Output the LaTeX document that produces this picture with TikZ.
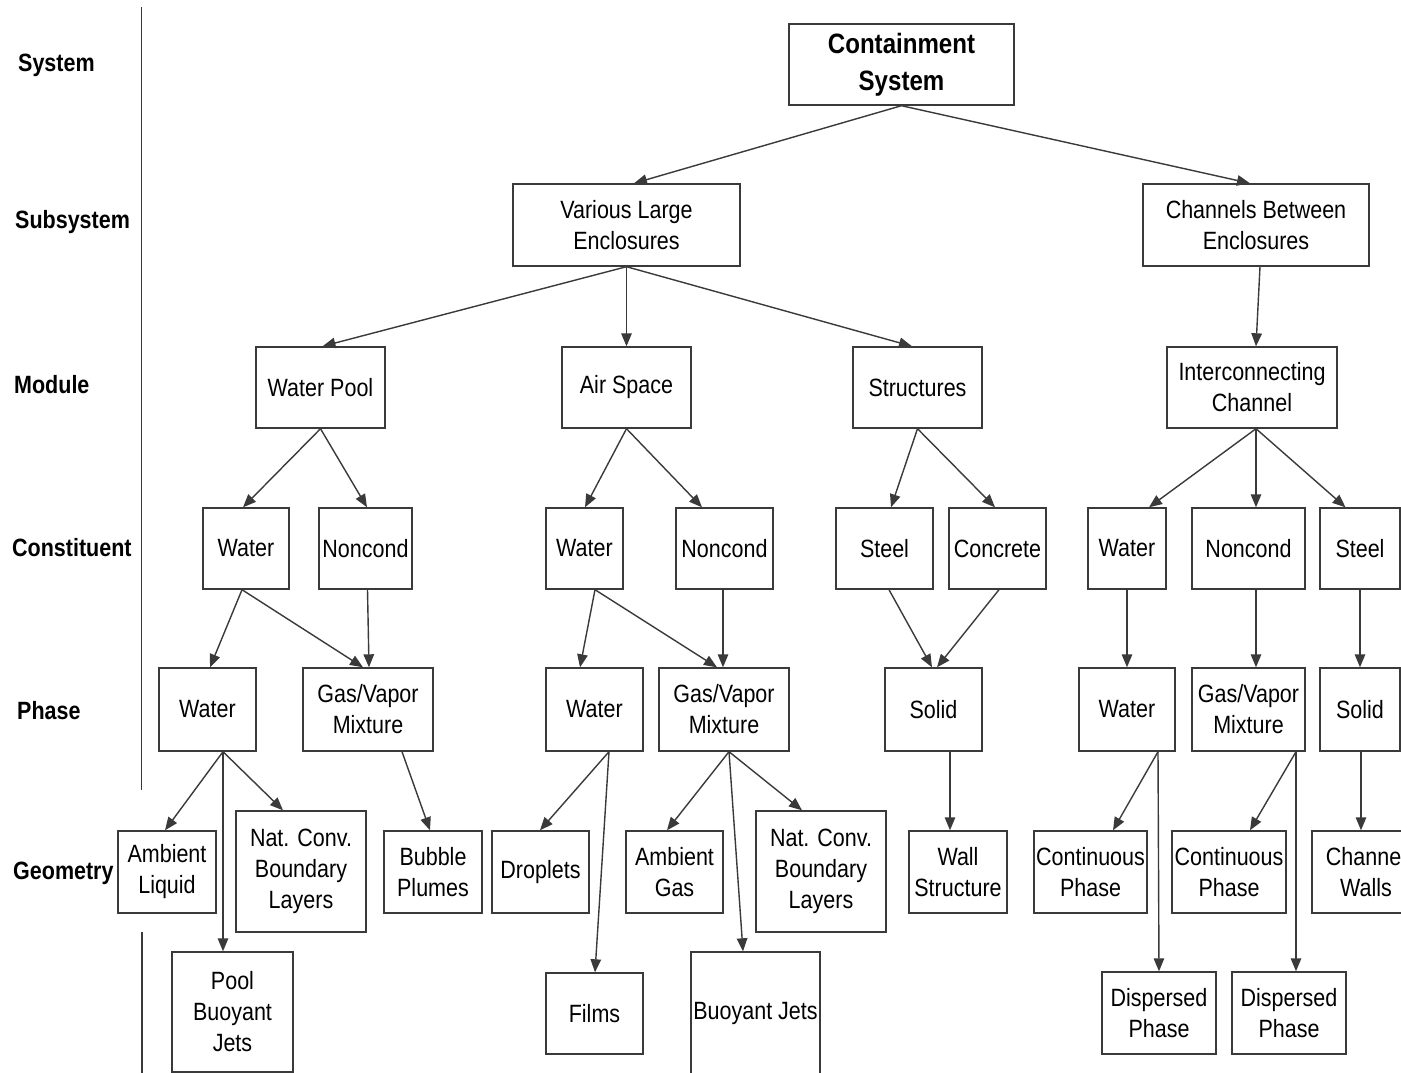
\documentclass[tikz,border=0pt]{standalone}
\usepackage{fontspec}
\setmainfont{Liberation Sans}[FakeStretch=0.86]
\usetikzlibrary{arrows.meta}
\definecolor{ln}{HTML}{3A3A3A}
\tikzset{
  box/.style={draw=ln, line width=1.4pt, inner sep=0pt, align=center, text=black,
    font=\fontsize{25}{31}\selectfont},
  lab/.style={anchor=west, inner sep=0pt, font=\fontsize{25}{30}\selectfont\bfseries},
  con/.style={draw=ln, line width=1.4pt, -{Triangle[length=13pt,width=10.5pt]}},
}
\newcommand{\bx}[6]{\node[box, minimum width=#4pt, minimum height=#5pt] (#1) at (#2,#3) {#6};}
\begin{document}
\begin{tikzpicture}[x=1pt,y=-1pt]
\useasboundingbox (0,0) rectangle (1401,1073);
\clip (0,0) rectangle (1401,1073);
\fill[white] (0,0) rectangle (1401,1073);
% level labels
\node[lab] (lsys) at (18,65) {System};
\node[lab] (lsub) at (15,222) {Subsystem};
\node[lab] (lmod) at (14,385) {Module};
\node[lab] (lcon) at (12,548) {Constituent};
\node[lab] (lpha) at (17,711) {Phase};
\node[lab] (lgeo) at (13,873) {Geometry};
\draw[ln, line width=1.4pt] (141.5,7) -- (141.5,790);
\draw[ln, line width=1.4pt] (142,932) -- (142,1073);
% boxes
\node[box, minimum width=225pt, minimum height=81pt, font=\fontsize{28}{37}\selectfont\bfseries] (cs) at (901.5,64.5) {Containment\\System};
\bx{vle}{626.5}{225}{227}{82}{Various Large\\Enclosures}
\bx{cbe}{1256}{225}{226}{82}{Channels Between\\Enclosures}
\bx{wp}{320.5}{387.5}{129}{81}{Water Pool}
\bx{as}{626.5}{387.5}{129}{81}{Air Space}
\bx{st}{917.5}{387.5}{129}{81}{Structures}
\bx{ic}{1252}{387.5}{170}{81}{Interconnecting\\Channel}
% constituents
\bx{c1}{246}{548.5}{86}{81}{Water}
\bx{c2}{365.5}{548.5}{93}{81}{Noncond}
\bx{c3}{584.5}{548.5}{77}{81}{Water}
\bx{c4}{724.5}{548.5}{97}{81}{Noncond}
\bx{c5}{884.5}{548.5}{97}{81}{Steel}
\bx{c6}{997.5}{548.5}{97}{81}{Concrete}
\bx{c7}{1127}{548.5}{78}{81}{Water}
\bx{c8}{1248.5}{548.5}{113}{81}{Noncond}
\bx{c9}{1360}{548.5}{80}{81}{Steel}
% phases
\bx{p1}{207.5}{709.5}{97}{83}{Water}
\bx{p2}{368}{709.5}{130}{83}{Gas/Vapor\\Mixture}
\bx{p3}{594.5}{709.5}{97}{83}{Water}
\bx{p4}{724}{709.5}{130}{83}{Gas/Vapor\\Mixture}
\bx{p5}{933.5}{709.5}{97}{83}{Solid}
\bx{p6}{1127}{709.5}{96}{83}{Water}
\bx{p7}{1248.5}{709.5}{113}{83}{Gas/Vapor\\Mixture}
\bx{p8}{1360}{709.5}{80}{83}{Solid}
% geometry row 1
\bx{g1}{167}{872}{98}{82}{Ambient\\Liquid}
\bx{g2}{301}{871.5}{130}{121}{Nat. Conv.\\Boundary\\Layers}
\bx{g3}{433}{872}{98}{82}{Bubble\\Plumes}
\bx{g4}{540.5}{872}{97}{82}{Droplets}
\bx{g5}{674.5}{872}{97}{82}{Ambient\\Gas}
\bx{g6}{821}{871.5}{130}{121}{Nat. Conv.\\Boundary\\Layers}
\bx{g7}{958}{872}{98}{82}{Wall\\Structure}
\bx{g8}{1090.5}{872}{113}{82}{Continuous\\Phase}
\bx{g9}{1229}{872}{114}{82}{Continuous\\Phase}
\bx{g10}{1366}{872}{108}{82}{Channel\\Walls}
% geometry row 2
\bx{h1}{232.5}{1012}{121}{120}{Pool\\Buoyant\\Jets}
\bx{h2}{594.5}{1013.5}{97}{81}{Films}
\bx{h3}{755.5}{1013}{129}{122}{Buoyant Jets}
\bx{h4}{1159}{1013}{114}{82}{Dispersed\\Phase}
\bx{h5}{1289}{1013}{114}{82}{Dispersed\\Phase}
% connectors
\draw[con] (cs.south) -- ([xshift=7.5pt]vle.north);
\draw[con] (cs.south) -- ([xshift=-6pt]cbe.north);
\draw[con] (vle.south) -- ([xshift=2pt]wp.north);
\draw[con] (vle.south) -- (as.north);
\draw[con] (vle.south) -- ([xshift=-5.5pt]st.north);
\draw[con] ([xshift=4pt]cbe.south) -- ([xshift=4pt]ic.north);
\draw[con] (wp.south) -- ([xshift=-3pt]c1.north);
\draw[con] (wp.south) -- ([xshift=1.5pt]c2.north);
\draw[con] (as.south) -- ([xshift=0.5pt]c3.north);
\draw[con] (as.south) -- ([xshift=-22.5pt]c4.north);
\draw[con] (st.south) -- ([xshift=6.5pt]c5.north);
\draw[con] (st.south) -- ([xshift=-2.5pt]c6.north);
\draw[con] ([xshift=4pt]ic.south) -- ([xshift=22pt]c7.north);
\draw[con] ([xshift=4pt]ic.south) -- ([xshift=7.5pt]c8.north);
\draw[con] ([xshift=4pt]ic.south) -- ([xshift=-14.5pt]c9.north);
\draw[con] ([xshift=-4pt]c1.south) -- ([xshift=2.5pt]p1.north);
\draw[con] ([xshift=-4pt]c1.south) -- ([xshift=-5pt]p2.north);
\draw[con] ([xshift=2pt]c2.south) -- ([xshift=1pt]p2.north);
\draw[con] ([xshift=10.5pt]c3.south) -- ([xshift=-14.5pt]p3.north);
\draw[con] ([xshift=10.5pt]c3.south) -- ([xshift=-7pt]p4.north);
\draw[con] ([xshift=-1.5pt]c4.south) -- ([xshift=-1pt]p4.north);
\draw[con] ([xshift=4.5pt]c5.south) -- ([xshift=-1.5pt]p5.north);
\draw[con] ([xshift=1.5pt]c6.south) -- ([xshift=3.5pt]p5.north);
\draw[con] (c7.south) -- (p6.north);
\draw[con] ([xshift=7.5pt]c8.south) -- ([xshift=7.5pt]p7.north);
\draw[con] (c9.south) -- (p8.north);
\draw[con] ([xshift=15.5pt]p1.south) -- ([xshift=-2pt]g1.north);
\draw[con] ([xshift=15.5pt]p1.south) -- ([xshift=-18pt]g2.north);
\draw[con] ([xshift=15.5pt]p1.south) -- ([xshift=-9.5pt]h1.north);
\draw[con] ([xshift=34pt]p2.south) -- ([xshift=-3pt]g3.north);
\draw[con] ([xshift=14.5pt]p3.south) -- ([xshift=-0.5pt]g4.north);
\draw[con] ([xshift=14.5pt]p3.south) -- ([xshift=0.5pt]h2.north);
\draw[con] ([xshift=5pt]p4.south) -- ([xshift=-7.5pt]g5.north);
\draw[con] ([xshift=5pt]p4.south) -- ([xshift=-12.5pt]h3.north);
\draw[con] ([xshift=5pt]p4.south) -- ([xshift=-19pt]g6.north);
\draw[con] ([xshift=16.5pt]p5.south) -- ([xshift=-8pt]g7.north);
\draw[con] ([xshift=31pt]p6.south) -- ([xshift=22.5pt]g8.north);
\draw[con] ([xshift=31pt]p6.south) -- (h4.north);
\draw[con] ([xshift=47.5pt]p7.south) -- ([xshift=21pt]g9.north);
\draw[con] ([xshift=47.5pt]p7.south) -- ([xshift=7pt]h5.north);
\draw[con] ([xshift=1pt]p8.south) -- ([xshift=-5pt]g10.north);
\end{tikzpicture}
\end{document}
